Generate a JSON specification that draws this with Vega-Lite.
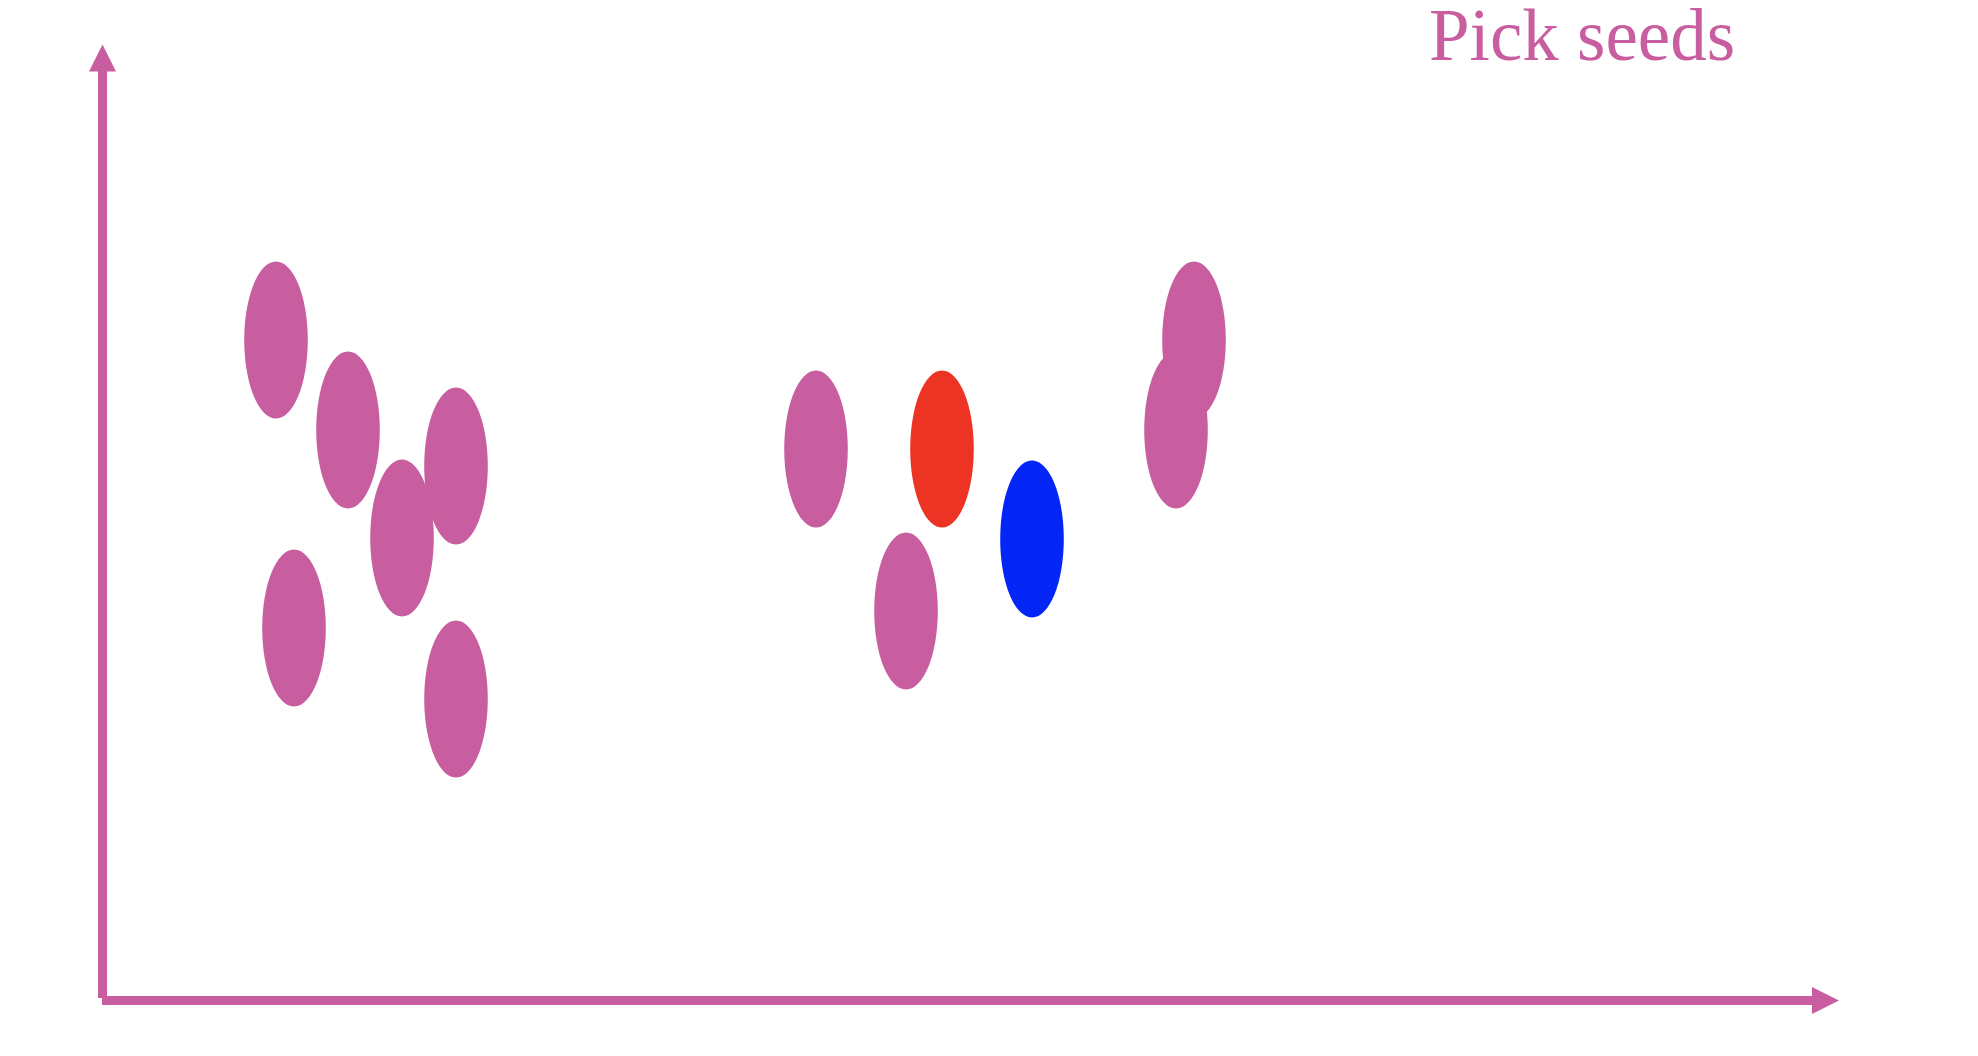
{
  "$schema": "https://vega.github.io/schema/vega-lite/v6.json",
  "width": 1978,
  "height": 1056,
  "autosize": {"type": "none"},
  "padding": 0,
  "background": "white",
  "config": {"view": {"stroke": null}},
  "datasets": {
    "points": [
      {"x": 174, "y": 660, "role": "point"},
      {"x": 246, "y": 570, "role": "point"},
      {"x": 354, "y": 534, "role": "point"},
      {"x": 300, "y": 462, "role": "point"},
      {"x": 192, "y": 372, "role": "point"},
      {"x": 354, "y": 301, "role": "point"},
      {"x": 714, "y": 551, "role": "point"},
      {"x": 840, "y": 551, "role": "seed 1"},
      {"x": 804, "y": 389, "role": "point"},
      {"x": 930, "y": 461, "role": "seed 2"},
      {"x": 1092, "y": 660, "role": "point"},
      {"x": 1074, "y": 570, "role": "point"}
    ],
    "axes": [
      {"axis": "y", "x": 0.5, "x2": 0.5, "y": 2, "y2": 929},
      {"axis": "x", "x": 0, "x2": 1710, "y": -0.5, "y2": -0.5}
    ],
    "heads": [
      {"axis": "y", "x": 0.5, "y": 942},
      {"axis": "x", "x": 1723.5, "y": -0.5}
    ],
    "labels": [
      {"x": 1327, "y": 940, "text": "Pick seeds"}
    ]
  },
  "layer": [
    {
      "data": {"name": "axes"},
      "mark": {"type": "rule", "color": "#C85EA0", "strokeWidth": 9, "strokeCap": "butt"},
      "encoding": {
        "x": {"field": "x", "type": "quantitative", "scale": {"domain": [-102, 1876], "nice": false, "zero": false}, "axis": null},
        "x2": {"field": "x2"},
        "y": {"field": "y", "type": "quantitative", "scale": {"domain": [-56, 1000], "nice": false, "zero": false}, "axis": null},
        "y2": {"field": "y2"}
      }
    },
    {
      "data": {"name": "heads"},
      "mark": {"type": "point", "filled": true, "opacity": 1, "color": "#C85EA0", "size": 729},
      "encoding": {
        "x": {"field": "x", "type": "quantitative"},
        "y": {"field": "y", "type": "quantitative"},
        "shape": {
          "field": "axis",
          "type": "nominal",
          "scale": {"domain": ["y", "x"], "range": ["M0,-1L1,1L-1,1Z", "M1,0L-1,-1L-1,1Z"]},
          "legend": null
        }
      }
    },
    {
      "data": {"name": "points"},
      "mark": {
        "type": "point",
        "filled": true,
        "opacity": 1,
        "size": 24649,
        "shape": "M0,-1A0.405,1 0 1,1 0,1A0.405,1 0 1,1 0,-1Z"
      },
      "encoding": {
        "x": {"field": "x", "type": "quantitative"},
        "y": {"field": "y", "type": "quantitative"},
        "color": {
          "field": "role",
          "type": "nominal",
          "scale": {"domain": ["point", "seed 1", "seed 2"], "range": ["#C85EA0", "#EC3324", "#0325F5"]},
          "legend": null
        }
      }
    },
    {
      "data": {"name": "labels"},
      "mark": {
        "type": "text",
        "font": "Liberation Serif",
        "fontSize": 73,
        "color": "#C85EA0",
        "align": "left",
        "baseline": "alphabetic"
      },
      "encoding": {
        "x": {"field": "x", "type": "quantitative"},
        "y": {"field": "y", "type": "quantitative"},
        "text": {"field": "text"}
      }
    }
  ]
}
